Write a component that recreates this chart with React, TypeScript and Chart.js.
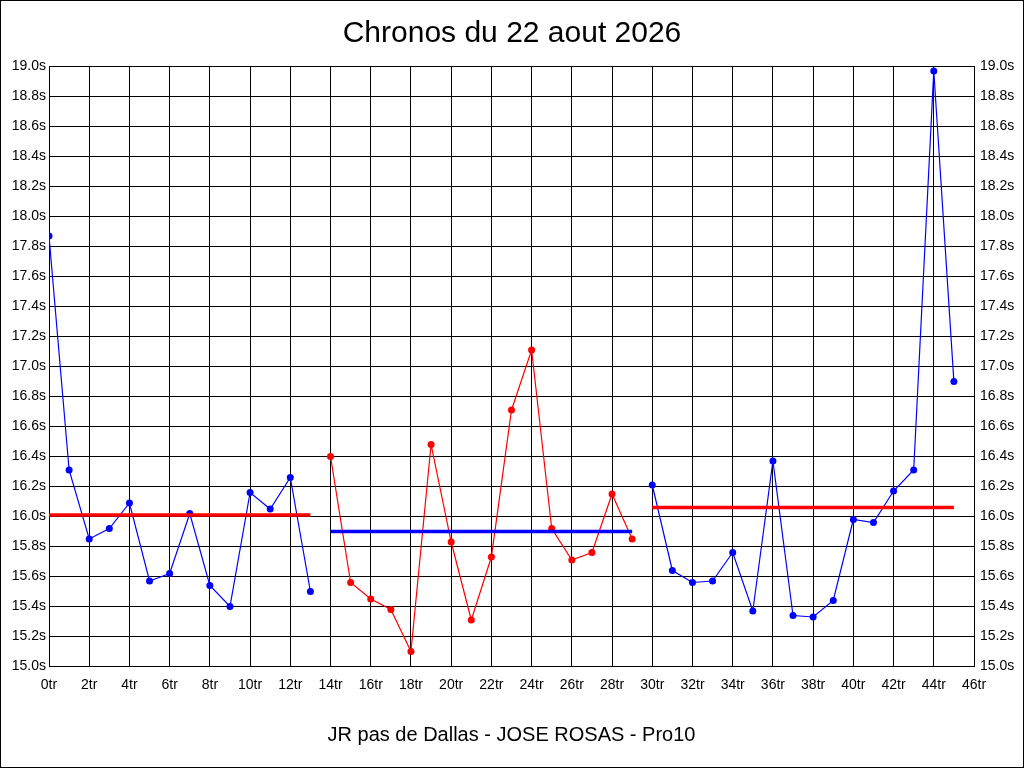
import React, { useEffect, useRef } from "react";
import { Chart, registerables } from "chart.js";

Chart.register(...registerables);

const TITLE = "Chronos du 22 aout 2026";
const FOOTER = "JR pas de Dallas - JOSE ROSAS - Pro10";

const laps1 = [0, 1, 2, 3, 4, 5, 6, 7, 8, 9, 10, 11, 12, 13];
const times1 = [17.87, 16.31, 15.85, 15.92, 16.09, 15.57, 15.62, 16.02, 15.54, 15.4, 16.16, 16.05, 16.26, 15.5];

const laps2 = [14, 15, 16, 17, 18, 19, 20, 21, 22, 23, 24, 25, 26, 27, 28, 29];
const times2 = [16.4, 15.56, 15.45, 15.38, 15.1, 16.48, 15.83, 15.31, 15.73, 16.71, 17.11, 15.92, 15.71, 15.76, 16.15, 15.85];

const laps3 = [30, 31, 32, 33, 34, 35, 36, 37, 38, 39, 40, 41, 42, 43, 44, 45];
const times3 = [16.21, 15.64, 15.56, 15.57, 15.76, 15.37, 16.37, 15.34, 15.33, 15.44, 15.98, 15.96, 16.17, 16.31, 18.97, 16.9];

const segmentMeans = [16.01, 15.9, 16.06];
const segmentColors = ["#0000ff", "#ff0000", "#0000ff"];
const meanColors = ["#ff0000", "#0000ff", "#ff0000"];

const X_MIN = 0;
const X_MAX = 46;
const X_STEP = 2;
const Y_MIN = 15;
const Y_MAX = 19;
const Y_STEP = 0.2;

const FONT = "'Liberation Sans', Arial, sans-serif";

function pts(xs: number[], ys: number[]) {
  return xs.map((x, i) => ({ x, y: ys[i] }));
}

export default function App() {
  const ref = useRef<HTMLCanvasElement | null>(null);

  useEffect(() => {
    if (!ref.current) return;
    const segs = [
      [laps1, times1],
      [laps2, times2],
      [laps3, times3],
    ] as [number[], number[]][];

    const meanSets = segs.map(([xs], i) => ({
      label: "moyenne " + (i + 1),
      data: [
        { x: xs[0], y: segmentMeans[i] },
        { x: xs[xs.length - 1], y: segmentMeans[i] },
      ],
      borderColor: meanColors[i],
      backgroundColor: meanColors[i],
      borderWidth: 3.5,
      pointRadius: 0,
      fill: false,
    }));

    const dataSets = segs.map(([xs, ys], i) => ({
      label: "segment " + (i + 1),
      data: pts(xs, ys),
      borderColor: segmentColors[i],
      backgroundColor: segmentColors[i],
      pointBackgroundColor: segmentColors[i],
      borderWidth: 1.2,
      pointRadius: 3.5,
      pointBorderWidth: 0,
      pointHoverRadius: 3.5,
      fill: false,
    }));

    const yTick = (v: any) => Number(v).toFixed(1) + "s";

    const chart = new Chart(ref.current, {
      type: "line",
      data: { datasets: [...meanSets, ...dataSets] as any },
      options: {
        animation: false,
        responsive: false,
        devicePixelRatio: 1,
        layout: { padding: 0 },
        plugins: {
          legend: { display: false },
          tooltip: { enabled: false },
          title: {
            display: true,
            text: TITLE,
            color: "#000",
            font: { family: FONT, size: 30, weight: "normal" as any, lineHeight: 1.2 },
            padding: { top: 15.5, bottom: 15 },
          },
        },
        scales: {
          x: {
            type: "linear",
            min: X_MIN,
            max: X_MAX,
            afterFit: (s: any) => {
              s.height = 101.5;
            },
            ticks: {
              stepSize: X_STEP,
              autoSkip: false,
              maxRotation: 0,
              minRotation: 0,
              padding: 10,
              color: "#000",
              font: { family: FONT, size: 14 },
              callback: (v: any) => v + "tr",
            },
            grid: { color: "#000", lineWidth: 1, drawTicks: false },
            border: { color: "#000", width: 1 },
            title: {
              display: true,
              text: FOOTER,
              color: "#000",
              font: { family: FONT, size: 20, lineHeight: 1.2 },
              padding: { top: 0, bottom: 21 },
            },
          },
          y: {
            type: "linear",
            position: "left",
            min: Y_MIN,
            max: Y_MAX,
            afterFit: (s: any) => {
              s.width = 49;
            },
            ticks: {
              stepSize: Y_STEP,
              padding: 3,
              color: "#000",
              font: { family: FONT, size: 14 },
              callback: yTick,
            },
            grid: { color: "#000", lineWidth: 1, drawTicks: false },
            border: { color: "#000", width: 1 },
          },
          y2: {
            type: "linear",
            position: "right",
            min: Y_MIN,
            max: Y_MAX,
            afterFit: (s: any) => {
              s.width = 50;
            },
            ticks: {
              stepSize: Y_STEP,
              padding: 6,
              color: "#000",
              font: { family: FONT, size: 14 },
              callback: yTick,
            },
            grid: { drawOnChartArea: false, drawTicks: false },
            border: { color: "#000", width: 1 },
          },
        },
      },
    });
    return () => chart.destroy();
  }, []);

  return (
    <div
      style={{
        position: "fixed",
        left: 0,
        top: 0,
        width: 1024,
        height: 768,
        background: "#fff",
      }}
    >
      <canvas ref={ref} width={1024} height={768} style={{ display: "block" }} />
      <div
        style={{
          position: "absolute",
          left: 0,
          top: 0,
          width: 1024,
          height: 768,
          border: "1px solid #000",
          boxSizing: "border-box",
          pointerEvents: "none",
        }}
      />
    </div>
  );
}
